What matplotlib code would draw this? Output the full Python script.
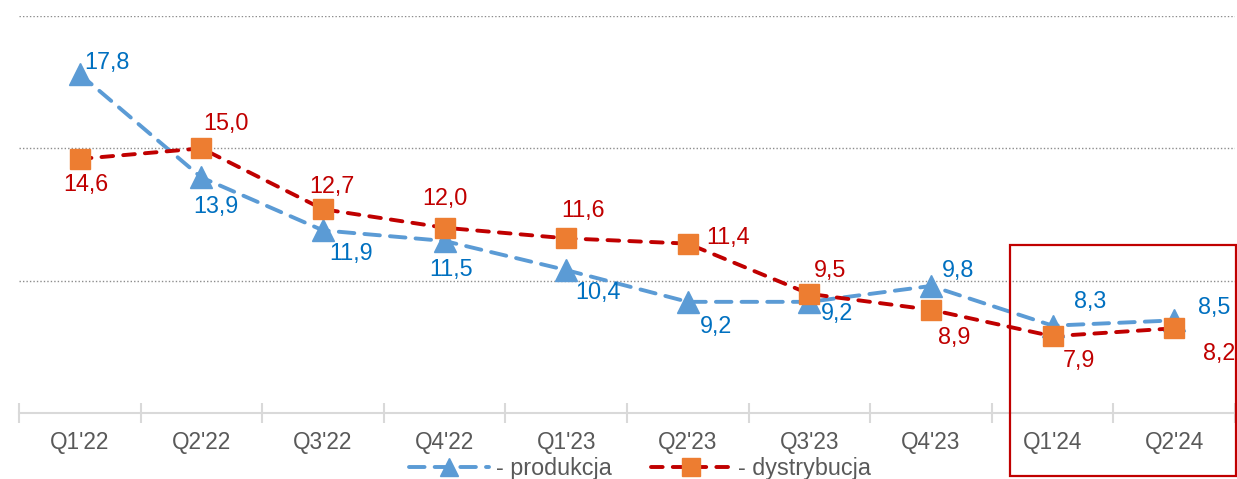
import matplotlib
matplotlib.use('Agg')
from matplotlib import pyplot as plt
from matplotlib.patches import Rectangle
from matplotlib.ticker import FixedLocator

plt.rcParams['font.family'] = ['Liberation Sans', 'DejaVu Sans']

quarters = ["Q1'22", "Q2'22", "Q3'22", "Q4'22", "Q1'23",
            "Q2'23", "Q3'23", "Q4'23", "Q1'24", "Q2'24"]
produkcja = [17.8, 13.9, 11.9, 11.5, 10.4, 9.2, 9.2, 9.8, 8.3, 8.5]
dystrybucja = [14.6, 15.0, 12.7, 12.0, 11.6, 11.4, 9.5, 8.9, 7.9, 8.2]

# label offsets in pixels (dx, dy), y up
prod_off = [(27, 12), (14, -29), (28, -23), (6, -29), (32, -22),
            (28, -25), (28, -12), (27, 15), (38, 24), (40, 13)]
dist_off = [(6, -26), (25, 25), (9, 23), (0, 29), (17, 28),
            (40, 6), (21, 23), (23, -28), (26, -24), (45, -25)]

BLUE_LINE = '#5B9BD5'
BLUE_TXT = '#0070C0'
RED = '#C00000'
ORANGE = '#ED7D31'
GREY = '#595959'

fig = plt.figure(figsize=(12.37, 4.79), dpi=100)
ax = fig.add_axes([19 / 1237, 66 / 479, 1216 / 1237, 397 / 479])

x = list(range(len(quarters)))
ax.plot(x, produkcja, color=BLUE_LINE, lw=2.8, dashes=(4, 2.6),
        dash_capstyle='round', marker='^', markersize=16,
        markerfacecolor=BLUE_LINE, markeredgecolor=BLUE_LINE,
        label='- produkcja', zorder=3)
ax.plot(x, dystrybucja, color=RED, lw=2.8, dashes=(3, 2.6),
        dash_capstyle='round', marker='s', markersize=14.5,
        markerfacecolor=ORANGE, markeredgecolor=ORANGE,
        label='- dystrybucja', zorder=4)

for i, v in enumerate(produkcja):
    ax.annotate(f'{v:.1f}'.replace('.', ','), (i, v), xytext=prod_off[i],
                textcoords='offset pixels', ha='center', va='center',
                color=BLUE_TXT, fontsize=16.8, zorder=5)
for i, v in enumerate(dystrybucja):
    ax.annotate(f'{v:.1f}'.replace('.', ','), (i, v), xytext=dist_off[i],
                textcoords='offset pixels', ha='center', va='center',
                color=RED, fontsize=16.8, zorder=5)

ax.set_xlim(-0.5, len(quarters) - 0.5)
ax.set_ylim(5, 20)
ax.set_yticks([10, 15, 20])
ax.yaxis.grid(True, linestyle=(0, (1, 1.5)), color='#8C8C8C', lw=1)
ax.tick_params(axis='y', left=False, labelleft=False)

ax.set_xticks(x)
ax.set_xticklabels(quarters)
ax.xaxis.set_minor_locator(FixedLocator([i - 0.5 for i in range(len(quarters) + 1)]))
ax.tick_params(axis='x', which='major', length=0, pad=13, labelsize=16.3,
               labelcolor=GREY)
ax.tick_params(axis='x', which='minor', direction='inout', length=14,
               width=1.5, color='#D9D9D9')

for side in ['top', 'right', 'left']:
    ax.spines[side].set_visible(False)
ax.spines['bottom'].set_color('#D9D9D9')
ax.spines['bottom'].set_linewidth(1.5)
ax.set_axisbelow(True)

fig.legend(loc='center', bbox_to_anchor=(640 / 1237, 1 - 469 / 479),
           ncol=2, frameon=False, fontsize=16.8, labelcolor=GREY,
           handlelength=3.4, handletextpad=0.3, columnspacing=1.7,
           markerscale=0.85, borderaxespad=0, borderpad=0)

fig.add_artist(Rectangle((1010 / 1237, 3 / 479), 226 / 1237, 231 / 479,
                         transform=fig.transFigure, fill=False,
                         edgecolor=RED, lw=1.6))

fig.savefig('out.png', dpi=100)
